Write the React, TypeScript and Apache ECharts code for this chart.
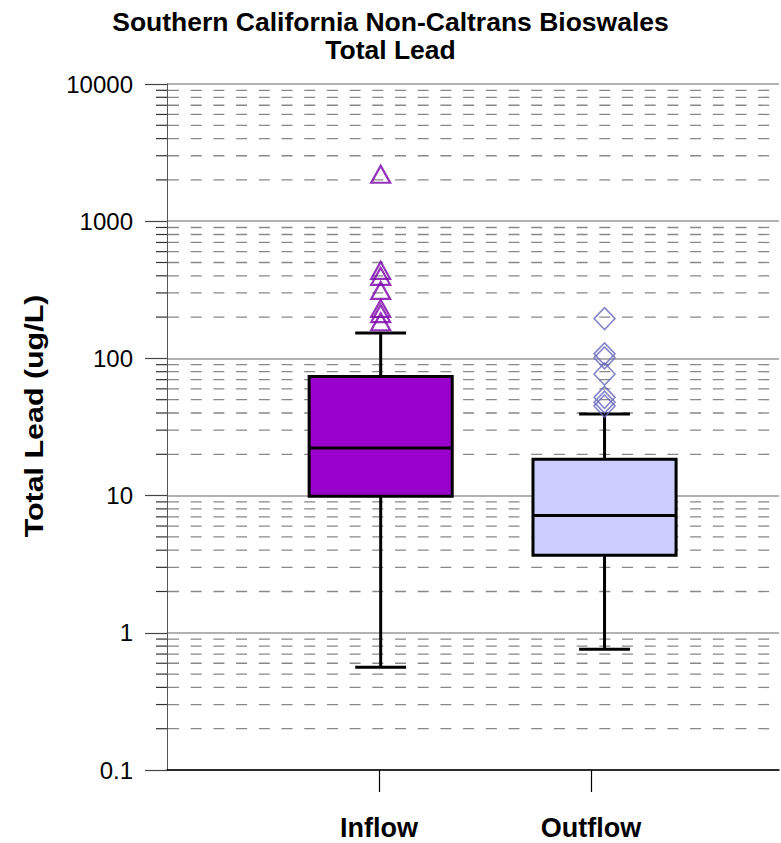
import React, { useEffect, useRef } from "react";
import * as echarts from "echarts";

// ---- Data ----
const categories = ["Inflow", "Outflow"];
const tickPositions = [1, 2];
const boxPositions = [1.008, 2.064];
const lowWhisker = [0.56, 0.76];
const q1Values = [9.9, 3.67];
const medianValues = [22.2, 7.16];
const q3Values = [73.7, 18.4];
const highWhisker = [153, 39.4];
const inflowOutliers = [2200, 438, 396, 313, 231, 212, 185];
const outflowOutliers = [195, 108, 101, 77, 52, 48, 45];
const yTickLabels = ["0.1", "1", "10", "100", "1000", "10000"];
const majorDecades = [0.1, 1, 10, 100, 1000];
const minorMultipliers = [2, 3, 4, 5, 6, 7, 8, 9];
const boxFills = ["#9900cc", "#ccccff"];
const titleText = "Southern California Non-Caltrans Bioswales\nTotal Lead";
const yAxisTitle = "Total Lead (ug/L)";

// ---- Layout constants ----
const X_MIN = 0;
const X_MAX = 2.887;
const BOX_WIDTH = 0.675;
const CAP_WIDTH = 0.24;
const FONT = "'Liberation Sans', Arial, sans-serif";

const minorValues: number[] = [];
majorDecades.forEach((d) => minorMultipliers.forEach((m) => minorValues.push(+(d * m).toPrecision(3))));

export default function App() {
  const ref = useRef<HTMLDivElement>(null);
  useEffect(() => {
    if (!ref.current) return;
    const chart = echarts.init(ref.current, null, { renderer: "svg" });
    const boxData = categories.map((_, i) => [
      boxPositions[i],
      lowWhisker[i],
      q1Values[i],
      medianValues[i],
      q3Values[i],
      highWhisker[i],
    ]);
    chart.setOption({
      animation: false,
      backgroundColor: "#fff",
      title: {
        text: titleText,
        left: "center",
        top: 3,
        textStyle: { fontSize: 26.5, fontWeight: "bold", lineHeight: 28, fontFamily: FONT, color: "#000" },
      },
      graphic: [
        {
          type: "text",
          x: 34,
          y: 416,
          rotation: Math.PI / 2,
          scaleX: 1.17,
          style: {
            text: yAxisTitle,
            font: `bold 26px ${FONT}`,
            textAlign: "center",
            textVerticalAlign: "middle",
            fill: "#000",
          },
        },
      ],
      grid: { left: 167, right: 2, top: 84, bottom: 73 },
      xAxis: {
        type: "value",
        min: X_MIN,
        max: X_MAX,
        axisLine: { show: true, onZero: false, lineStyle: { color: "#000", width: 1.5 } },
        axisTick: { show: true, customValues: tickPositions, length: 22, lineStyle: { color: "#000", width: 1.2 } },
        axisLabel: {
          customValues: tickPositions,
          formatter: (v: number) => {
            const i = tickPositions.indexOf(v);
            return i >= 0 ? categories[i] : "";
          },
          fontSize: 27,
          fontWeight: "bold",
          color: "#000",
          fontFamily: FONT,
          margin: 44,
        },
        splitLine: { show: false },
      },
      yAxis: {
        type: "log",
        logBase: 10,
        min: 0.1,
        max: 10000,
        axisLine: { show: true, lineStyle: { color: "#555", width: 1 } },
        axisTick: { show: true, length: 22, lineStyle: { color: "#444", width: 1.2 } },
        axisLabel: {
          fontSize: 24,
          color: "#000",
          margin: 34,
          fontFamily: FONT,
          formatter: (v: number) => yTickLabels[Math.round(Math.log10(v)) + 1] ?? "",
        },
        splitLine: { show: true, lineStyle: { color: "#999", width: 1.5 } },
      },
      series: [
        {
          type: "custom",
          name: "minor grid",
          coordinateSystem: "cartesian2d",
          clip: false,
          silent: true,
          z: 1,
          data: minorValues.map((v) => [X_MIN, v]),
          encode: { x: 0, y: 1 },
          renderItem: (_params: any, api: any) => {
            const v = api.value(1);
            const p0 = api.coord([X_MIN, v]);
            const p1 = api.coord([X_MAX, v]);
            return {
              type: "group",
              children: [
                {
                  type: "line",
                  shape: { x1: p0[0] + 1, y1: p0[1], x2: p1[0], y2: p1[1] },
                  style: { stroke: "#888", lineWidth: 1.3, lineDash: [11, 11.7] },
                },
                {
                  type: "line",
                  shape: { x1: p0[0] - 11, y1: p0[1], x2: p0[0], y2: p0[1] },
                  style: { stroke: "#333", lineWidth: 1.2 },
                },
              ],
            };
          },
        },
        {
          type: "custom",
          name: "boxes",
          coordinateSystem: "cartesian2d",
          z: 3,
          data: boxData,
          encode: { x: 0, y: [1, 2, 3, 4, 5] },
          renderItem: (params: any, api: any) => {
            const x = api.value(0);
            const i = params.dataIndex;
            const low = api.coord([x, api.value(1)]);
            const q1 = api.coord([x, api.value(2)]);
            const med = api.coord([x, api.value(3)]);
            const q3 = api.coord([x, api.value(4)]);
            const high = api.coord([x, api.value(5)]);
            const xl = api.coord([x - BOX_WIDTH / 2, api.value(3)])[0];
            const xr = api.coord([x + BOX_WIDTH / 2, api.value(3)])[0];
            const cl = api.coord([x - CAP_WIDTH / 2, api.value(3)])[0];
            const cr = api.coord([x + CAP_WIDTH / 2, api.value(3)])[0];
            const cx = low[0];
            const ls = { stroke: "#000", lineWidth: 3 };
            return {
              type: "group",
              children: [
                { type: "line", shape: { x1: cx, y1: high[1], x2: cx, y2: q3[1] }, style: ls },
                { type: "line", shape: { x1: cx, y1: q1[1], x2: cx, y2: low[1] }, style: ls },
                { type: "line", shape: { x1: cl, y1: high[1], x2: cr, y2: high[1] }, style: ls },
                { type: "line", shape: { x1: cl, y1: low[1], x2: cr, y2: low[1] }, style: ls },
                {
                  type: "rect",
                  shape: { x: xl, y: q3[1], width: xr - xl, height: q1[1] - q3[1] },
                  style: { fill: boxFills[i], stroke: "#000", lineWidth: 3 },
                },
                { type: "line", shape: { x1: xl, y1: med[1], x2: xr, y2: med[1] }, style: ls },
              ],
            };
          },
        },
        {
          type: "scatter",
          name: "Inflow outliers",
          z: 4,
          symbol: "triangle",
          symbolSize: [19, 17],
          itemStyle: { color: "rgba(255,255,255,0)", borderColor: "#7a00aa", borderWidth: 2.2 },
          data: inflowOutliers.map((v) => [boxPositions[0], v]),
        },
        {
          type: "scatter",
          name: "Outflow outliers",
          z: 4,
          symbol: "diamond",
          symbolSize: [21, 22],
          itemStyle: { color: "rgba(255,255,255,0)", borderColor: "#6666bb", borderWidth: 1.6 },
          data: outflowOutliers.map((v) => [boxPositions[1], v]),
        },
      ],
    });
    return () => chart.dispose();
  }, []);
  return (
    <div
      ref={ref}
      style={{ position: "fixed", left: 0, top: 0, width: 781, height: 843, background: "#fff" }}
    />
  );
}
